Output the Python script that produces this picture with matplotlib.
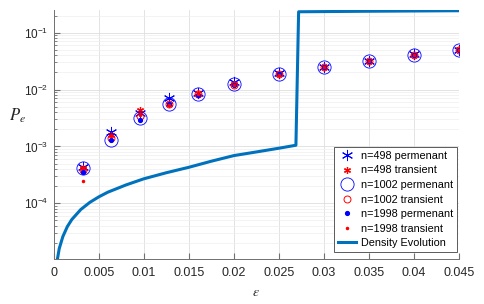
import math

import matplotlib

matplotlib.use("Agg")
import matplotlib.pyplot as plt  # noqa: E402
from matplotlib.ticker import FixedLocator, FuncFormatter, LogLocator, NullFormatter  # noqa: E402

plt.rcParams["font.family"] = ["Liberation Sans", "DejaVu Sans"]
plt.rcParams["mathtext.fontset"] = "stix"

# simulation points
eps = [0.0032, 0.0064, 0.0096, 0.0128, 0.016, 0.02, 0.025, 0.03, 0.035, 0.04, 0.045]
n498_perm = [4.4e-4, 1.8e-3, 3.8e-3, 7.2e-3, 8.6e-3, 1.35e-2, 1.95e-2, 2.5e-2, 3.2e-2, 4.2e-2, 5.0e-2]
n498_trans = [4.2e-4, 1.6e-3, 4.3e-3, 5.6e-3, 8.6e-3, 1.25e-2, 1.9e-2, 2.5e-2, 3.2e-2, 4.1e-2, 5.1e-2]
n1002_perm = [4.2e-4, 1.3e-3, 3.1e-3, 5.6e-3, 8.3e-3, 1.23e-2, 1.85e-2, 2.5e-2, 3.2e-2, 4.1e-2, 4.9e-2]
n1002_trans = [3.9e-4, 1.4e-3, 3.4e-3, 5.6e-3, 8.4e-3, 1.2e-2, 1.85e-2, 2.5e-2, 3.2e-2, 4.0e-2, 5.0e-2]
n1998_perm = [3.6e-4, 1.3e-3, 2.9e-3, 5.5e-3, 8.1e-3, 1.2e-2, 1.85e-2, 2.45e-2, 3.15e-2, 4.05e-2, 4.9e-2]
n1998_trans = [2.5e-4, 1.5e-3, 3.6e-3, 5.4e-3, 8.3e-3, 1.18e-2, 1.8e-2, 2.5e-2, 3.2e-2, 4.0e-2, 5.0e-2]

# density evolution curve
de_eps = [0.0004, 0.0006, 0.001, 0.0015, 0.002, 0.003, 0.004, 0.005, 0.006, 0.008, 0.01,
          0.0125, 0.015, 0.0175, 0.02, 0.0225, 0.025, 0.0269, 0.0272, 0.035, 0.045]
de_pe = [1.05e-5, 1.6e-5, 2.6e-5, 3.9e-5, 5.2e-5, 7.8e-5, 1.04e-4, 1.3e-4, 1.57e-4, 2.1e-4, 2.7e-4,
         3.45e-4, 4.3e-4, 5.5e-4, 6.9e-4, 8.0e-4, 9.3e-4, 1.05e-3, 0.233, 0.238, 0.243]

x_ticks = [0, 0.005, 0.01, 0.015, 0.02, 0.025, 0.03, 0.035, 0.04, 0.045]

asterisk = (6, 2, 0)
blue = (0, 0, 1)
red = (1, 0, 0)

fig = plt.figure(figsize=(4.85, 3.04), dpi=100)
ax = fig.add_axes([0.111, 0.148, 0.835, 0.819])

ax.plot(eps, n498_perm, linestyle="none", marker=asterisk, markersize=8, color=blue,
        markeredgewidth=0.7, label="n=498 permenant")
ax.plot(eps, n498_trans, linestyle="none", marker=asterisk, markersize=5, color=red,
        markeredgewidth=0.9, label="n=498 transient")
ax.plot(eps, n1002_perm, linestyle="none", marker="o", markersize=9.5, markerfacecolor="none",
        markeredgecolor=blue, markeredgewidth=0.6, label="n=1002 permenant")
ax.plot(eps, n1002_trans, linestyle="none", marker="o", markersize=5, markerfacecolor="none",
        markeredgecolor=red, markeredgewidth=0.7, label="n=1002 transient")
ax.plot(eps, n1998_perm, linestyle="none", marker=".", markersize=5.5, color=blue,
        label="n=1998 permenant")
ax.plot(eps, n1998_trans, linestyle="none", marker=".", markersize=3, color=red,
        label="n=1998 transient")
ax.plot(de_eps, de_pe, color="#0072BD", linewidth=2.2, label="Density Evolution")

ax.set_yscale("log")
ax.set_xlim(0, 0.045)
ax.set_ylim(1.05e-5, 0.25)

ax.xaxis.set_major_locator(FixedLocator(x_ticks))
ax.xaxis.set_major_formatter(FuncFormatter(lambda v, p: "%g" % v))
ax.yaxis.set_major_locator(LogLocator(base=10, numticks=10))
ax.yaxis.set_minor_locator(LogLocator(base=10, subs=range(2, 10), numticks=20))
ax.yaxis.set_major_formatter(FuncFormatter(
    lambda v, p: r"$\mathregular{10^{%d}}$" % round(math.log10(v))))
ax.yaxis.set_minor_formatter(NullFormatter())

ax.grid(True, which="major", color="#dedede", linewidth=0.6)
ax.grid(True, which="minor", axis="y", color="#eeeeee", linewidth=0.5)
ax.set_axisbelow(True)

for side in ("top", "right"):
    ax.spines[side].set_visible(False)
for side in ("left", "bottom"):
    ax.spines[side].set_color("#707070")
    ax.spines[side].set_linewidth(0.7)

ax.tick_params(which="both", direction="in", colors="#707070", labelcolor="#262626", labelsize=9)
ax.tick_params(which="major", length=4)
ax.tick_params(which="minor", length=2)
ax.tick_params(axis="x", pad=6)
ax.tick_params(axis="y", labelsize=8.5, pad=4)

ax.set_xlabel(r"$\epsilon$", fontsize=10, color="#262626")
ax.xaxis.set_label_coords(0.5, -0.105)
ax.set_ylabel(r"$P_e$", fontsize=12, color="#262626", rotation=0)
ax.yaxis.set_label_coords(-0.09, 0.54)

leg = ax.legend(loc="lower right", bbox_to_anchor=(0.995, 0.028), borderaxespad=0,
                fontsize=7.8, fancybox=False, framealpha=1, edgecolor="#404040",
                handlelength=1.7, handletextpad=0.4, labelspacing=0.42, borderpad=0.35)
leg.get_frame().set_linewidth(0.6)

fig.savefig("out.png", dpi=100)
